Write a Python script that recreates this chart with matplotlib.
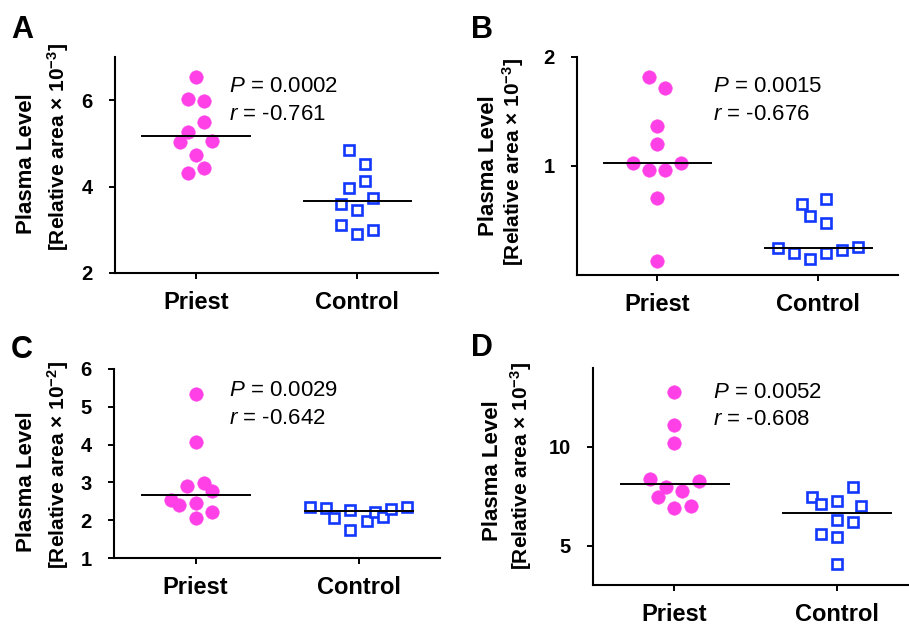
import numpy as np
import matplotlib
matplotlib.use("Agg")
import matplotlib.pyplot as plt

plt.rcParams['font.family'] = ['Liberation Sans', 'DejaVu Sans']
plt.rcParams['mathtext.fontset'] = 'custom'
plt.rcParams['mathtext.rm'] = 'Liberation Sans'
plt.rcParams['mathtext.it'] = 'Liberation Sans:italic'
plt.rcParams['mathtext.bf'] = 'Liberation Sans:bold'

categories = ['Priest', 'Control']

# ---- data ----
a_priest = [6.54, 6.02, 5.98, 5.49, 5.27, 5.04, 5.06, 4.74, 4.43, 4.32]
a_control = [4.85, 4.53, 4.14, 3.97, 3.74, 3.60, 3.45, 3.10, 2.99, 2.91]
b_priest = [1.82, 1.72, 1.37, 1.20, 1.03, 1.03, 0.96, 0.96, 0.71, 0.13]
b_control = [0.65, 0.70, 0.54, 0.48, 0.244, 0.20, 0.15, 0.20, 0.226, 0.253]
c_priest = [5.34, 4.08, 2.91, 2.98, 2.78, 2.54, 2.39, 2.46, 2.22, 2.06]
c_control = [2.36, 2.31, 2.05, 2.26, 1.73, 1.99, 2.22, 2.08, 2.29, 2.34]
d_priest = [12.76, 11.11, 10.20, 8.38, 8.29, 7.95, 7.78, 7.44, 6.88, 7.01]
d_control = [7.95, 7.44, 7.27, 7.10, 7.01, 6.30, 6.19, 5.56, 5.43, 4.08]

p_values = ['0.0002', '0.0015', '0.0029', '0.0052']
r_values = ['-0.761', '-0.676', '-0.642', '-0.608']
panel_letters = ['A', 'B', 'C', 'D']
exponents = ['-3', '-3', '-2', '-3']
y_ticks = [[2, 4, 6], [1, 2], [1, 2, 3, 4, 5, 6], [5, 10]]
y_limits = [(2, 7), (0, 2), (1, 6), (3, 14)]

# ---- swarm layout (horizontal slot of each point, scatter-dot-plot spreading) ----
a_priest_slot = [0, -1, 1, 1, -1, -2, 2, 0, 1, -1]
a_control_slot = [-1, 1, 1, -1, 2, -2, 0, -2, 2, 0]
b_priest_slot = [-1, 1, 0, 0, -3, 3, -1, 1, 0, 0]
b_control_slot = [-2, 1, -1, 1, -5, -3, -1, 1, 3, 5]
c_priest_slot = [0, 0, -1, 1, 2, -3, -2, 0, 2, 0]
c_control_slot = [-6, -4, -3, -1, -1, 1, 2, 3, 4, 6]
d_priest_slot = [0, 0, 0, -3, 3, -1, 1, -2, 0, 2]
d_control_slot = [2, -3, 0, -2, 3, 0, 2, -2, 0, 0]

SLOT = 0.05
MAG = '#FF40E6'
BLUE = '#1238FF'

W, H = 909, 629
fig = plt.figure(figsize=(W / 100, H / 100), dpi=100)

# axes boxes in pixels: left, right, top, bottom
boxes = [(115, 438, 57, 273), (577, 898, 57, 275), (114, 440, 369, 558), (593, 918, 368, 585)]
text_pos = [(0.353, 0.838, 0.708), (0.423, 0.841, 0.711), (0.354, 0.857, 0.709), (0.368, 0.860, 0.737)]
letter_pos = [(11, 38), (471, 38), (11, 358), (471, 356)]
ylab_pos = [((27, 164), (58, 147)), ((489, 166), (513, 162)),
            ((27, 482), (58, 465)), ((493, 471), (521, 466))]

panels = [
    (a_priest, a_control, a_priest_slot, a_control_slot),
    (b_priest, b_control, b_priest_slot, b_control_slot),
    (c_priest, c_control, c_priest_slot, c_control_slot),
    (d_priest, d_control, d_priest_slot, d_control_slot),
]

for i, (pr, co, ps, cs) in enumerate(panels):
    l, r, t, b = boxes[i]
    ax = fig.add_axes([l / W, 1 - b / H, (r - l) / W, (b - t) / H])
    ax.set_xlim(-0.5, 1.5)
    ax.set_ylim(*y_limits[i])
    ax.set_yticks(y_ticks[i])
    ax.set_xticks([0, 1])
    ax.set_xticklabels(categories)
    for s in ['top', 'right']:
        ax.spines[s].set_visible(False)
    for s in ['left', 'bottom']:
        ax.spines[s].set_linewidth(1.5)
        ax.spines[s].set_clip_on(False)
    ax.tick_params(axis='both', length=4, width=1.4, direction='out')
    ax.tick_params(axis='y', labelsize=14.5, pad=12)
    ax.tick_params(axis='x', labelsize=17, pad=9)
    for lab in ax.get_xticklabels() + ax.get_yticklabels():
        lab.set_fontweight('bold')

    xp = 0 + SLOT * np.array(ps)
    xc = 1 + SLOT * np.array(cs)
    ax.plot(xp, pr, 'o', ms=9.8, mfc=MAG, mec=MAG, mew=0.3, clip_on=False, zorder=3)
    ax.plot(xc, co, 's', ms=6.8, mfc='white', mec=BLUE, mew=1.9, clip_on=False, zorder=3)
    ax.plot([-0.33, 0.335], [np.median(pr)] * 2, color='black', lw=1.4, zorder=4)
    ax.plot([0.67, 1.335], [np.median(co)] * 2, color='black', lw=1.4, zorder=4)

    tx, ty1, ty2 = text_pos[i]
    ax.text(tx, ty1, r'$P$ = ' + p_values[i], transform=ax.transAxes, fontsize=16, va='baseline')
    ax.text(tx, ty2, r'$r$ = ' + r_values[i], transform=ax.transAxes, fontsize=16, va='baseline')

    lx, ly = letter_pos[i]
    fig.text(lx / W, 1 - ly / H, panel_letters[i], fontsize=22, fontweight='bold', va='baseline')
    (x1, y1), (x2, y2) = ylab_pos[i]
    fig.text(x1 / W, 1 - y1 / H, 'Plasma Level', rotation=90, fontsize=16, fontweight='bold',
             ha='center', va='center')
    fig.text(x2 / W, 1 - y2 / H,
             r'[Relative area × 10$^{\mathbf{' + exponents[i] + r'}}$]',
             rotation=90, fontsize=15, fontweight='bold', ha='center', va='center')

fig.savefig('out.png', dpi=100)
